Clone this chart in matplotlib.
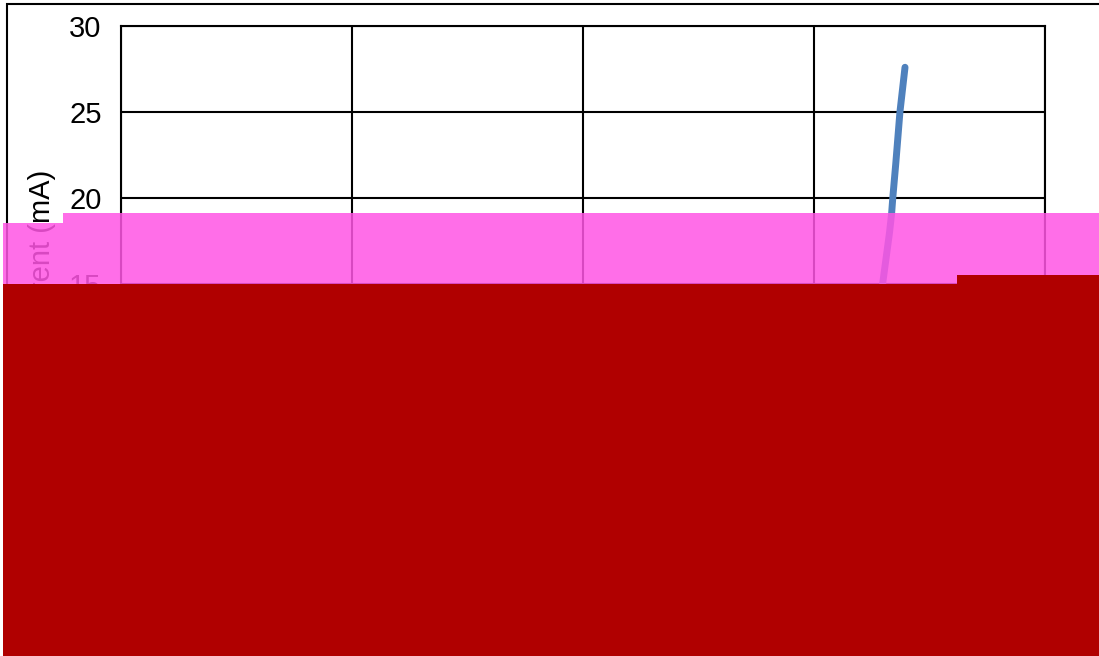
import matplotlib.pyplot as plt
from matplotlib.patches import Rectangle

plt.rcParams['font.family'] = ['Liberation Sans', 'DejaVu Sans']

# data (voltage V, current mA)
voltage = [3.297, 3.307, 3.317, 3.327, 3.336, 3.341, 3.354, 3.366, 3.372, 3.383, 3.394]
current = [15.0, 16.0, 17.0, 18.0, 19.1, 20.0, 22.0, 24.0, 25.0, 26.3, 27.6]

x_ticks = [0, 1, 2, 3, 4]
y_ticks = [0, 5, 10, 15, 20, 25, 30]

W, H = 1099, 656
fig = plt.figure(figsize=(W / 100, H / 100), dpi=100)
ax = fig.add_axes([121 / W, 1 - 542 / H, 924 / W, 516 / H])

ax.plot(voltage, current, color='#4F81BD', lw=5, solid_capstyle='round', zorder=3)

ax.set_xlim(0, 4)
ax.set_ylim(0, 30)
ax.set_xticks(x_ticks)
ax.set_yticks(y_ticks)
ax.grid(True, color='black', lw=1.5)
for s in ax.spines.values():
    s.set_color('black')
    s.set_linewidth(1.5)
ax.tick_params(length=0, pad=14, labelsize=21, colors='black')
ax.set_xlabel('Voltage (V)', fontsize=21)

fig.text(42 / W, 1 - 254 / H, 'Current (mA)', rotation=90, ha='center', va='center', fontsize=21)

# outer chart border
fig.add_artist(Rectangle((7 / W, -0.1), 1.2, 1.1 - 4 / H, transform=fig.transFigure,
                         fill=False, ec='black', lw=1.5, zorder=1))

# corrupted image blocks from the reference
magenta = '#FF55E4'
red = '#B00000'
fig.add_artist(Rectangle((3 / W, 1 - 285 / H), 60 / W, 62 / H, transform=fig.transFigure,
                         fc=magenta, ec='none', alpha=0.85, zorder=5))
fig.add_artist(Rectangle((63 / W, 1 - 285 / H), 1036 / W, 72 / H, transform=fig.transFigure,
                         fc=magenta, ec='none', alpha=0.85, zorder=5))
fig.add_artist(Rectangle((3 / W, 0), 1096 / W, 1 - 284 / H, transform=fig.transFigure,
                         fc=red, ec='none', zorder=6))
fig.add_artist(Rectangle((957 / W, 0), 142 / W, 1 - 275 / H, transform=fig.transFigure,
                         fc=red, ec='none', zorder=6))

fig.savefig('out.png', dpi=100)
